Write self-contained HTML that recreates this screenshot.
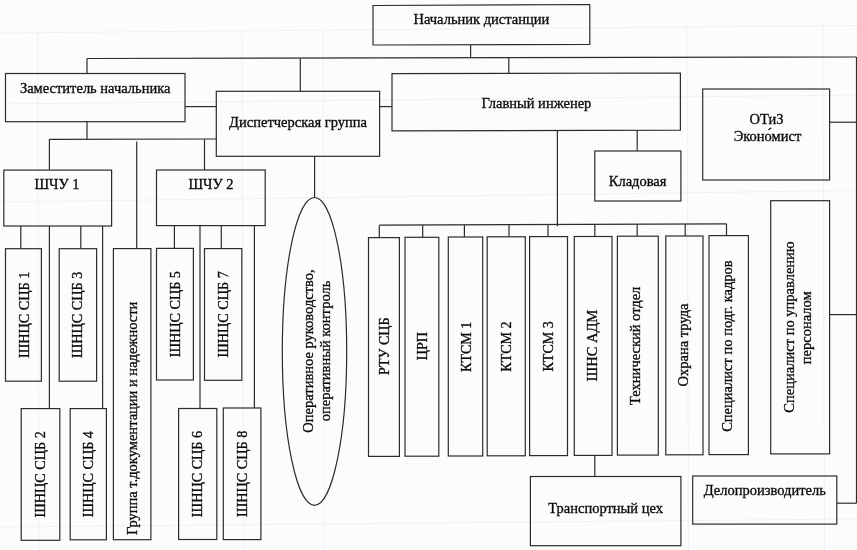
<!DOCTYPE html>
<html lang="ru">
<head>
<meta charset="utf-8">
<title>Структура дистанции</title>
<style>
html,body{margin:0;padding:0;background:#fcfcfc;}
body{width:857px;height:550px;overflow:hidden;}
svg{display:block;will-change:transform;}
.b{fill:none;stroke:#2c2c2c;stroke-width:1.2;}
.l{stroke:#2c2c2c;stroke-width:1.2;fill:none;}
text{font-family:"Liberation Serif","DejaVu Serif",serif;font-size:14.5px;fill:#0a0a0a;stroke:#0a0a0a;stroke-width:0.32px;}
.m{text-anchor:middle;}
</style>
</head>
<body>
<svg width="857" height="550" viewBox="0 0 857 550">
<rect x="0" y="0" width="857" height="550" fill="#fcfcfc"/>
<g id="paper" stroke="#f0f1f7" stroke-width="1" fill="none">
<line x1="0.0" y1="33.0" x2="857.0" y2="25.5"/>
<line x1="0.0" y1="104.0" x2="857.0" y2="95.0"/>
<line x1="0.0" y1="202.0" x2="857.0" y2="190.5"/>
<line x1="0.0" y1="527.0" x2="857.0" y2="519.0"/>
<line x1="37.6" y1="32.0" x2="39.0" y2="550.0"/>
<line x1="242.0" y1="30.0" x2="243.5" y2="550.0"/>
<line x1="323.0" y1="29.5" x2="324.5" y2="550.0"/>
<line x1="687.0" y1="26.5" x2="688.5" y2="550.0"/>
<line x1="823.0" y1="25.5" x2="824.5" y2="550.0"/>
</g>
<g id="connectors">
<line class="l" x1="470.6" y1="44.7" x2="470.6" y2="58.0"/>
<line class="l" x1="87.0" y1="58.5" x2="856.5" y2="57.0"/>
<line class="l" x1="87.0" y1="58.5" x2="87.0" y2="73.5"/>
<line class="l" x1="300.3" y1="58.3" x2="300.3" y2="91.3"/>
<line class="l" x1="508.8" y1="58.0" x2="508.8" y2="73.3"/>
<line class="l" x1="856.5" y1="57.0" x2="856.5" y2="503.2"/>
<line class="l" x1="829.6" y1="122.2" x2="857.0" y2="122.2"/>
<line class="l" x1="829.6" y1="314.6" x2="857.0" y2="314.6"/>
<line class="l" x1="836.8" y1="503.2" x2="856.5" y2="503.2"/>
<line class="l" x1="185.0" y1="106.6" x2="216.3" y2="106.6"/>
<line class="l" x1="379.6" y1="106.6" x2="392.0" y2="106.6"/>
<line class="l" x1="87.0" y1="121.7" x2="87.0" y2="139.3"/>
<line class="l" x1="49.4" y1="139.4" x2="216.3" y2="139.0"/>
<line class="l" x1="49.4" y1="139.3" x2="49.4" y2="170.1"/>
<line class="l" x1="136.7" y1="141.5" x2="136.7" y2="248.6"/>
<line class="l" x1="204.5" y1="139.3" x2="204.5" y2="170.0"/>
<line class="l" x1="20.8" y1="226.0" x2="20.8" y2="248.7"/>
<line class="l" x1="49.4" y1="226.0" x2="49.4" y2="408.6"/>
<line class="l" x1="80.8" y1="226.0" x2="80.8" y2="248.7"/>
<line class="l" x1="102.6" y1="226.0" x2="102.6" y2="408.6"/>
<line class="l" x1="174.4" y1="225.6" x2="174.4" y2="248.4"/>
<line class="l" x1="200.0" y1="225.6" x2="200.0" y2="408.5"/>
<line class="l" x1="221.3" y1="225.6" x2="221.3" y2="248.6"/>
<line class="l" x1="254.4" y1="225.6" x2="254.4" y2="408.0"/>
<line class="l" x1="314.6" y1="156.3" x2="314.6" y2="197.5"/>
<line class="l" x1="557.4" y1="130.5" x2="557.4" y2="226.2"/>
<line class="l" x1="637.2" y1="130.5" x2="637.2" y2="151.0"/>
<line class="l" x1="379.3" y1="225.2" x2="726.5" y2="223.8"/>
<line class="l" x1="594.8" y1="455.4" x2="594.8" y2="476.5"/>
<line class="l" x1="379.3" y1="225.2" x2="379.3" y2="237.6"/>
<line class="l" x1="422.7" y1="225.0" x2="422.7" y2="237.3"/>
<line class="l" x1="464.4" y1="224.9" x2="464.4" y2="237.0"/>
<line class="l" x1="509.0" y1="224.7" x2="509.0" y2="236.8"/>
<line class="l" x1="548.0" y1="224.5" x2="548.0" y2="236.6"/>
<line class="l" x1="594.8" y1="224.3" x2="594.8" y2="236.5"/>
<line class="l" x1="637.2" y1="224.2" x2="637.2" y2="236.2"/>
<line class="l" x1="685.2" y1="224.0" x2="685.2" y2="236.0"/>
<line class="l" x1="726.5" y1="223.8" x2="726.5" y2="235.6"/>
</g>
<g id="boxes">
<polygon class="b" points="373.0,5.5 589.8,4.5 589.8,44.4 373.0,45.0"/>
<rect class="b" x="5.5" y="73.5" width="179.5" height="48.2"/>
<rect class="b" x="216.3" y="91.3" width="163.3" height="65.0"/>
<polygon class="b" points="392.0,73.6 680.4,73.0 680.4,130.1 392.0,130.9"/>
<rect class="b" x="702.7" y="89.0" width="126.9" height="91.0"/>
<rect class="b" x="594.8" y="151.0" width="86.1" height="50.0"/>
<rect class="b" x="3.8" y="170.1" width="107.8" height="55.9"/>
<rect class="b" x="156.5" y="170.0" width="108.7" height="55.6"/>
<rect class="b" x="5.5" y="248.7" width="35.9" height="132.5"/>
<rect class="b" x="59.2" y="248.7" width="37.4" height="132.5"/>
<rect class="b" x="113.4" y="248.6" width="37.5" height="291.1"/>
<rect class="b" x="156.5" y="248.4" width="36.9" height="131.6"/>
<rect class="b" x="204.5" y="248.6" width="37.3" height="131.7"/>
<rect class="b" x="21.2" y="408.6" width="38.6" height="131.7"/>
<rect class="b" x="70.2" y="408.6" width="36.2" height="131.2"/>
<rect class="b" x="178.6" y="408.5" width="38.2" height="131.0"/>
<rect class="b" x="223.3" y="408.0" width="37.6" height="131.6"/>
<rect class="b" x="368.5" y="237.6" width="30.9" height="218.8"/>
<rect class="b" x="405.0" y="237.3" width="33.8" height="218.9"/>
<rect class="b" x="448.3" y="237.0" width="34.4" height="219.0"/>
<rect class="b" x="487.2" y="236.8" width="38.1" height="219.0"/>
<rect class="b" x="529.6" y="236.6" width="37.9" height="219.0"/>
<rect class="b" x="574.3" y="236.5" width="37.7" height="218.9"/>
<rect class="b" x="617.4" y="236.2" width="40.9" height="218.9"/>
<rect class="b" x="665.8" y="236.0" width="37.2" height="218.8"/>
<rect class="b" x="709.0" y="235.6" width="39.4" height="219.0"/>
<rect class="b" x="770.7" y="200.7" width="58.9" height="253.2"/>
<rect class="b" x="530.4" y="476.5" width="150.5" height="69.2"/>
<rect class="b" x="692.7" y="476.0" width="144.1" height="48.1"/>
<ellipse class="b" cx="314.5" cy="351.4" rx="32.2" ry="153.9"/>
</g>
<g id="labels">
<text class="m" x="481.4" y="23.8">Начальник дистанции</text>
<text class="m" x="95.2" y="93.3">Заместитель начальника</text>
<text class="m" x="298.0" y="126.7">Диспетчерская группа</text>
<text class="m" x="536.4" y="108.4">Главный инженер</text>
<text class="m" x="637.6" y="185.7">Кладовая</text>
<text class="m" x="766.5" y="124.3">ОТиЗ</text>
<text class="m" x="767.5" y="140.5">Эконо́мист</text>
<text class="m" x="57.0" y="189.4">ШЧУ 1</text>
<text class="m" x="211.0" y="189.2">ШЧУ 2</text>
<text class="m" x="605.6" y="512.9">Транспортный цех</text>
<text class="m" x="764.8" y="494.8">Делопроизводитель</text>
<text class="m" style="font-size:14.2px" transform="translate(28.7 314.9) rotate(-90)">ШНЦС СЦБ 1</text>
<text class="m" style="font-size:14.2px" transform="translate(82.1 314.9) rotate(-90)">ШНЦС СЦБ 3</text>
<text class="m" style="font-size:14.2px" transform="translate(179.7 314.2) rotate(-90)">ШНЦС СЦБ 5</text>
<text class="m" style="font-size:14.2px" transform="translate(227.9 314.4) rotate(-90)">ШНЦС СЦБ 7</text>
<text class="m" style="font-size:14.2px" transform="translate(44.7 474.4) rotate(-90)">ШНЦС СЦБ 2</text>
<text class="m" style="font-size:14.2px" transform="translate(93.3 474.2) rotate(-90)">ШНЦС СЦБ 4</text>
<text class="m" style="font-size:14.2px" transform="translate(202.4 474.0) rotate(-90)">ШНЦС СЦБ 6</text>
<text class="m" style="font-size:14.2px" transform="translate(246.5 473.8) rotate(-90)">ШНЦС СЦБ 8</text>
<text transform="translate(136.5 535.0) rotate(-90)">Группа т.документации и надежности</text>
<text class="m" transform="translate(313.0 351.0) rotate(-90)">Оперативное руководство,</text>
<text class="m" transform="translate(330.2 351.0) rotate(-90)">оперативный контроль</text>
<text class="m" style="font-size:14px" transform="translate(388.7 346.2) rotate(-90)">РТУ СЦБ</text>
<text class="m" style="font-size:14px" transform="translate(426.6 346.2) rotate(-90)">ЦРП</text>
<text class="m" style="font-size:14px" transform="translate(471.1 346.8) rotate(-90)">КТСМ 1</text>
<text class="m" style="font-size:14px" transform="translate(511.0 346.6) rotate(-90)">КТСМ 2</text>
<text class="m" style="font-size:14px" transform="translate(553.3 346.4) rotate(-90)">КТСМ 3</text>
<text class="m" transform="translate(597.0 345.6) rotate(-90)">ШНС АДМ</text>
<text class="m" transform="translate(639.8 345.8) rotate(-90)">Технический отдел</text>
<text class="m" transform="translate(688.1 345.0) rotate(-90)">Охрана труда</text>
<text class="m" transform="translate(732.4 346.1) rotate(-90)">Специалист по подг. кадров</text>
<text class="m" transform="translate(794.2 327.0) rotate(-90)">Специалист по управлению</text>
<text class="m" transform="translate(811.2 327.8) rotate(-90)">персоналом</text>
</g>
</svg>
</body>
</html>
